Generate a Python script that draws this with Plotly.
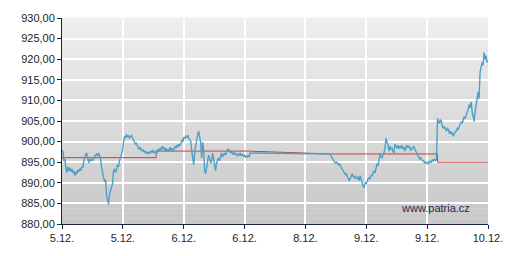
import numpy as np
import plotly.graph_objects as go

# ---- data ----
tick_labels_x = ["5.12.", "5.12.", "6.12.", "6.12.", "8.12.", "9.12.", "9.12.", "10.12."]
y_ticks = [880, 885, 890, 895, 900, 905, 910, 915, 920, 925, 930]

# session 1 (5.12. - 6.12.), regularly sampled prices
seg_a_start, seg_a_end = 0.0, 3.093
seg_a_prices = [
    897.94, 897.46, 895.31, 895.79, 893.40, 892.44, 893.88, 892.92, 893.64, 892.68,
    893.40, 892.44, 892.92, 891.72, 892.68, 892.20, 893.16, 892.68, 893.40, 892.92,
    893.88, 893.64, 895.31, 896.27, 896.99, 897.23, 896.03, 894.83, 895.79, 895.31,
    895.79, 895.31, 896.27, 896.03, 896.75, 896.99, 896.51, 897.23, 896.51, 895.55,
    893.64, 891.72, 891.25, 890.29, 890.77, 886.93, 885.50, 884.78, 887.17, 888.13,
    889.09, 889.81, 892.92, 893.40, 892.44, 892.92, 894.36, 893.88, 895.31, 896.03,
    896.75, 897.70, 899.62, 901.29, 900.81, 901.77, 901.05, 901.53, 900.81, 901.29,
    901.53, 901.05, 900.33, 899.86, 899.38, 899.62, 898.90, 898.42, 898.18, 898.66,
    897.94, 897.70, 897.94, 897.46, 897.70, 897.23, 897.46, 896.99, 897.46, 897.23,
    897.70, 897.46, 897.94, 897.23, 897.46, 897.70, 897.23, 898.18, 897.70, 898.42,
    897.94, 898.90, 898.18, 898.66, 897.70, 898.42, 897.46, 898.18, 897.70, 898.66,
    897.94, 898.42, 897.46, 898.18, 898.90, 898.42, 899.14, 898.66, 899.38, 898.90,
    899.86, 900.33, 900.10, 901.05,
    900.81, 901.29, 901.05, 901.53, 900.81, 900.57, 900.10, 897.70, 895.79, 894.36,
    897.70, 899.38, 900.57, 901.77, 902.49, 900.81, 899.62, 896.03, 899.86, 897.70,
    892.92, 892.20, 893.88, 895.31, 896.75, 895.79, 894.83, 895.31, 897.23, 895.79,
    894.12, 892.92, 894.83, 895.79, 896.03, 895.31, 896.51, 897.23, 896.27, 896.75,
    897.23, 896.75, 897.46, 897.94, 898.18, 897.70, 897.23, 897.70, 896.99, 897.23,
    896.75, 897.23, 896.99, 896.51, 896.99, 896.75, 897.23, 896.51, 896.99, 896.51,
    896.75, 896.27, 896.51, 896.27, 896.75, 896.27, 897.23,
]

# session 2 (8.12. - 10.12.)
seg_b_start, seg_b_end = 4.395, 7.0
seg_b_prices = [
    896.99, 896.75, 896.27, 896.03, 895.55, 895.07, 894.83, 895.07, 894.83, 894.36,
    894.59, 894.12, 893.64, 893.40, 892.92, 892.44, 891.96, 892.20, 891.25, 891.01,
    890.53, 891.25, 891.72, 892.20, 891.49, 891.25, 891.72, 891.01, 891.01, 891.49,
    890.53, 891.72, 890.77, 889.81, 889.09, 888.85, 890.05, 889.81, 890.53, 891.01,
    891.25, 891.01, 891.72, 891.72, 892.44, 892.92, 892.44, 893.64, 894.59, 894.12,
    895.31, 896.99, 896.27, 896.03, 896.75, 897.23, 898.42, 900.81, 899.86, 899.38,
    897.70, 898.90, 898.18, 898.42, 897.70, 897.23, 899.38, 898.66, 898.42, 899.14,
    898.18, 898.90, 898.42, 899.14, 898.18, 898.66, 897.70, 898.66, 899.14, 898.42,
    898.90, 898.66, 897.94, 898.18, 898.66, 898.90, 898.18, 897.70, 897.23, 896.51,
    896.03, 895.79, 896.03, 895.55, 895.31, 895.31, 894.83, 895.07, 894.83, 894.59,
    895.07, 894.83, 895.31, 895.07, 895.55, 895.31, 895.79, 895.31, 895.79,
    905.60, 904.88, 904.40, 905.36, 904.88, 903.68, 903.21, 903.68, 902.97, 902.49,
    903.21, 902.97, 902.01, 902.49, 901.77, 902.25, 901.29, 902.01, 902.49, 902.49,
    903.21, 902.97, 903.68, 904.40, 904.88, 904.40, 905.36, 906.08, 905.60, 906.80,
    907.27, 907.75, 908.95, 908.23, 909.67, 907.27, 905.60, 904.88, 907.27, 909.67,
    910.38, 912.06, 910.38, 916.84, 918.52, 919.24, 918.52, 921.63, 919.95, 920.91,
    919.24, 919.71,
]

# reference (previous close) line
ref_t = [0.0, 1.547, 1.547, 3.06, 4.395, 6.17, 6.17, 7.0]
ref_v = [896.1, 896.1, 897.7, 897.7, 897.0, 897.0, 895.0, 895.0]

t_all = np.concatenate([
    np.linspace(seg_a_start, seg_a_end, len(seg_a_prices)),
    np.linspace(seg_b_start, seg_b_end, len(seg_b_prices)),
])
p_all = seg_a_prices + seg_b_prices

fig = go.Figure()
fig.add_trace(go.Scatter(x=ref_t, y=ref_v, mode="lines",
                         line=dict(color="#c8403a", width=1), hoverinfo="skip"))
fig.add_trace(go.Scatter(x=t_all, y=p_all, mode="lines",
                         line=dict(color="#4ea1c6", width=1.4), hoverinfo="skip"))

# gradient background bands
n_bands = 40
top_c = np.array([0xef, 0xef, 0xef])
bot_c = np.array([0xc8, 0xc8, 0xc8])
shapes = []
for i in range(n_bands):
    f = (i + 0.5) / n_bands
    c = (bot_c + (top_c - bot_c) * f).astype(int)
    shapes.append(dict(type="rect", xref="x domain", yref="y domain",
                       x0=0, x1=1, y0=i / n_bands, y1=(i + 1) / n_bands + 0.002,
                       fillcolor="rgb(%d,%d,%d)" % tuple(c), line=dict(width=0),
                       layer="below"))

fig.update_layout(
    width=515, height=256,
    margin=dict(l=62, r=23, t=15, b=32),
    paper_bgcolor="white",
    plot_bgcolor="rgba(0,0,0,0)",
    showlegend=False,
    shapes=shapes,
    font=dict(family="Liberation Sans, Arial, sans-serif", size=11, color="#1e1e1e"),
    annotations=[dict(text="www.patria.cz", xref="paper", yref="paper",
                      x=0.877, y=0.08, xanchor="center", yanchor="middle",
                      showarrow=False,
                      font=dict(size=11, color="#1c2850"))],
)
fig.update_xaxes(
    range=[0, 7], tickvals=list(range(8)), ticktext=tick_labels_x,
    showgrid=True, gridcolor="white", gridwidth=1.5,
    showline=True, linecolor="#1c2540", linewidth=1,
    ticks="outside", ticklen=4, tickcolor="#1c2540", zeroline=False,
)
fig.update_yaxes(
    range=[880, 930], tickvals=y_ticks,
    ticktext=[("%.2f" % v).replace(".", ",") for v in y_ticks],
    showgrid=True, gridcolor="white", gridwidth=1.5,
    showline=True, linecolor="#1c2540", linewidth=1,
    ticks="outside", ticklen=4, tickcolor="#1c2540", zeroline=False,
)

fig.write_html("out.html")
